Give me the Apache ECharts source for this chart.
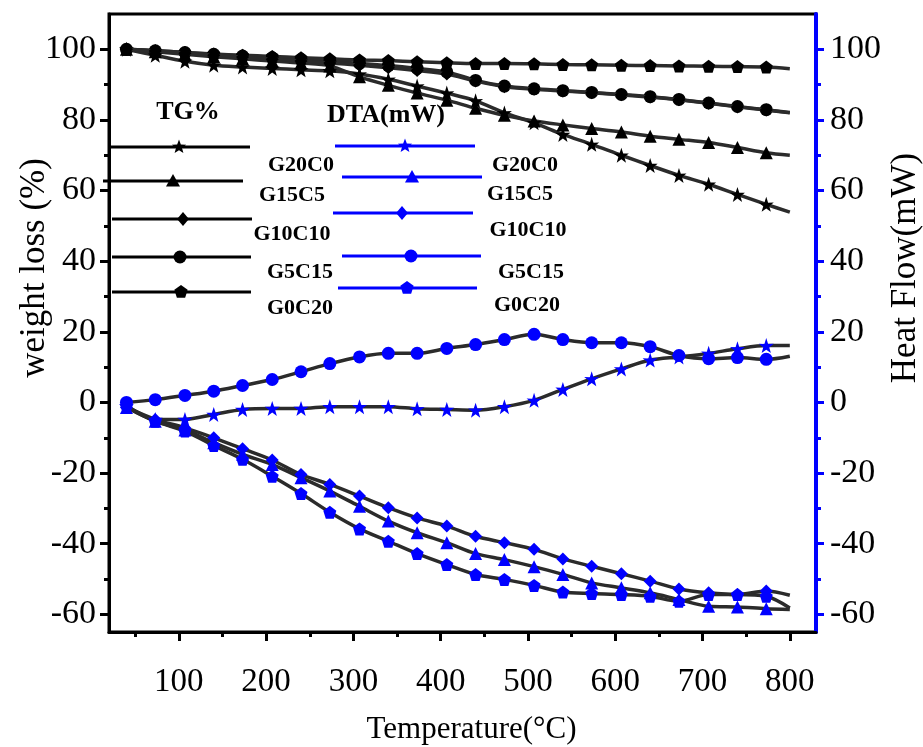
<!DOCTYPE html>
<html><head><meta charset="utf-8">
<script src="https://cdn.jsdelivr.net/npm/echarts@6/dist/echarts.min.js"></script>
<style>html,body{margin:0;padding:0;background:#fff}#c{width:923px;height:747px}</style>
</head><body><div id="c"></div>
<script>
// ---------- data ----------
const temps = [40, 73, 107, 140, 173, 207, 240, 273, 307, 340, 373, 407, 440, 473, 507, 540, 573, 607, 640, 673, 707, 740, 773, 800];
const seriesNames = ['G20C0', 'G15C5', 'G10C10', 'G5C15', 'G0C20'];

// TG (%) -- left axis
const tgG20C0  = [100, 98.3, 96.6, 95.5, 95.0, 94.6, 94.2, 93.9, 93.0, 91.5, 89.6, 87.6, 85.4, 82.0, 79.2, 75.9, 73.1, 70.0, 67.1, 64.3, 61.8, 58.9, 56.1, 53.9];
const tgG15C5  = [100, 99.3, 98.6, 97.9, 97.3, 96.7, 96.1, 95.3, 92.2, 89.8, 87.6, 85.6, 83.3, 81.3, 79.7, 78.6, 77.6, 76.6, 75.4, 74.5, 73.6, 72.2, 70.7, 70.0];
const tgG10C10 = [100, 99.5, 98.9, 98.3, 97.8, 97.2, 96.7, 96.1, 95.5, 94.8, 94.0, 93.0, 91.0, 89.4, 88.7, 88.2, 87.7, 87.1, 86.5, 85.7, 84.7, 83.7, 82.8, 82.0];
const tgG5C15  = [100, 99.6, 99.1, 98.6, 98.1, 97.6, 97.1, 96.6, 96.0, 95.4, 94.6, 93.6, 91.2, 89.6, 88.8, 88.3, 87.8, 87.2, 86.6, 85.8, 84.8, 83.8, 82.9, 82.1];
const tgG0C20  = [100, 99.6, 99.1, 98.7, 98.3, 98.0, 97.6, 97.3, 97.0, 96.8, 96.5, 96.2, 96.0, 96.0, 95.9, 95.7, 95.6, 95.5, 95.4, 95.3, 95.2, 95.1, 95.0, 94.5];

// DTA (mW) -- right axis
const dtaG20C0  = [-1.0, -4.8, -4.8, -3.4, -2.0, -1.7, -1.7, -1.2, -1.2, -1.2, -1.8, -2.0, -2.2, -1.2, 0.6, 3.7, 6.7, 9.5, 12.0, 12.9, 13.9, 15.2, 16.1, 16.1];
const dtaG15C5  = [-1.4, -5.3, -7.8, -11.4, -14.7, -17.6, -21.3, -25.1, -29.4, -33.6, -36.9, -39.7, -42.8, -44.5, -46.5, -48.7, -51.1, -52.5, -53.9, -55.8, -57.7, -57.9, -58.4, -58.6];
const dtaG10C10 = [-1.4, -4.8, -7.2, -10.0, -13.1, -16.3, -20.4, -23.2, -26.5, -29.8, -32.7, -35.0, -37.9, -39.7, -41.6, -44.3, -46.4, -48.5, -50.6, -52.8, -53.9, -54.4, -53.4, -54.6];
const dtaG5C15  = [0, 0.8, 2.0, 3.2, 4.8, 6.5, 8.7, 11.0, 12.9, 13.9, 13.9, 15.3, 16.4, 17.8, 19.3, 17.8, 16.9, 16.9, 15.8, 13.3, 12.4, 12.7, 12.2, 13.1];
const dtaG0C20  = [-1.0, -5.3, -8.1, -12.2, -16.1, -20.9, -25.8, -31.1, -35.8, -39.3, -42.8, -45.9, -48.7, -50.1, -51.8, -53.7, -54.1, -54.4, -54.9, -56.3, -54.4, -54.4, -54.9, -58.2];

// ticks
const xTicks = [100, 200, 300, 400, 500, 600, 700, 800];
const xMinorTicks = [50, 150, 250, 350, 450, 550, 650, 750];
const yTicks = [-60, -40, -20, 0, 20, 40, 60, 80, 100];
const yMinorTicks = [-50, -30, -10, 10, 30, 50, 70, 90];

// ---------- styling ----------
const FONT = '"Liberation Serif", "Times New Roman", serif';
const BLUE = '#0000ff';
const LINE = '#2b2b2b';
const symbols = [
  'path://M50,0L61.8,35.3L97.6,34.5L69.1,56.2L79.4,90.5L50,70L20.6,90.5L30.9,56.2L2.4,34.5L38.2,35.3Z',
  'triangle', 'diamond', 'circle',
  'path://M50,0L97.6,34.5L79.4,90.5L20.6,90.5L2.4,34.5Z'
];
const tgData = [tgG20C0, tgG15C5, tgG10C10, tgG5C15, tgG0C20];
const dtaData = [dtaG20C0, dtaG15C5, dtaG10C10, dtaG5C15, dtaG0C20];

function pairs(arr) { return temps.map((t, i) => [t, arr[i]]); }
function symSize(base) {
  return function (v, p) { return p.dataIndex === temps.length - 1 ? 0 : base; };
}

const series = [];
tgData.forEach((d, i) => {
  series.push({
    name: 'TG ' + seriesNames[i], type: 'line', xAxisIndex: 0, yAxisIndex: 0,
    data: pairs(d), smooth: 0.3, symbol: symbols[i], symbolSize: symSize(i === 0 ? 15 : 13),
    showAllSymbol: true,
    lineStyle: { color: LINE, width: 3.5 }, itemStyle: { color: '#000' }, z: i === 2 ? 4 : 3
  });
});
dtaData.forEach((d, i) => {
  series.push({
    name: 'DTA ' + seriesNames[i], type: 'line', xAxisIndex: 0, yAxisIndex: 1,
    data: pairs(d), smooth: 0.3, symbol: symbols[i], symbolSize: symSize(i === 0 ? 15 : 13),
    showAllSymbol: true,
    lineStyle: { color: LINE, width: 3.5 }, itemStyle: { color: BLUE }, z: 3
  });
});

// ---------- hand-drawn legend (graphic) ----------
function poly(kind, cx, cy, r) {
  const pts = [];
  if (kind === 0) {
    for (let k = 0; k < 10; k++) {
      const a = -Math.PI / 2 + k * Math.PI / 5, rr = k % 2 ? r * 0.42 : r;
      pts.push([cx + rr * Math.cos(a), cy + rr * Math.sin(a)]);
    }
  } else if (kind === 1) {
    pts.push([cx, cy - r], [cx + r, cy + r * 0.8], [cx - r, cy + r * 0.8]);
  } else if (kind === 2) {
    pts.push([cx, cy - r], [cx + r * 0.85, cy], [cx, cy + r], [cx - r * 0.85, cy]);
  } else if (kind === 4) {
    for (let k = 0; k < 5; k++) {
      const a = -Math.PI / 2 + k * 2 * Math.PI / 5;
      pts.push([cx + r * Math.cos(a), cy + r * Math.sin(a)]);
    }
  }
  return pts;
}
// [lineY, x1, x2, markerX, labelX, labelY]
const tgLegendLayout = [
  [147, 110, 250, 179, 301, 165], [181, 103, 243, 173, 292, 195], [219, 112, 252, 183, 292, 234],
  [257, 112, 251, 180, 300, 272], [292, 112, 251, 181, 300, 308]
];
const dtaLegendLayout = [
  [146, 335, 475, 405, 525, 165], [177, 342, 482, 412, 520, 194], [213, 333, 473, 402, 528, 230],
  [256, 342, 481, 411, 531, 272], [288, 338, 477, 407, 527, 305]
];
const graphic = [];
function addLegend(layout, color) {
  layout.forEach((L, i) => {
    graphic.push({ type: 'line', shape: { x1: L[1], y1: L[0], x2: L[2], y2: L[0] }, style: { stroke: color, lineWidth: 3 }, z: 10 });
    if (i === 3) {
      graphic.push({ type: 'circle', shape: { cx: L[3], cy: L[0], r: 6.5 }, style: { fill: color }, z: 11 });
    } else {
      graphic.push({ type: 'polygon', shape: { points: poly(i, L[3], L[0], i === 0 ? 7.5 : 7) }, style: { fill: color }, z: 11 });
    }
    graphic.push({ type: 'text', x: L[4], y: L[5], z: 11,
      style: { text: seriesNames[i], fill: '#000', font: 'bold 22px ' + FONT, textAlign: 'center', textVerticalAlign: 'middle', align: 'center', verticalAlign: 'middle' } });
  });
}
addLegend(tgLegendLayout, '#000');
addLegend(dtaLegendLayout, BLUE);
graphic.push({ type: 'text', x: 188, y: 112, z: 11,
  style: { text: 'TG%', fill: '#000', font: 'bold 26px ' + FONT, textAlign: 'center', textVerticalAlign: 'middle', align: 'center', verticalAlign: 'middle' } });
graphic.push({ type: 'text', x: 386, y: 115, z: 11,
  style: { text: 'DTA(mW)', fill: '#000', font: 'bold 26px ' + FONT, textAlign: 'center', textVerticalAlign: 'middle', align: 'center', verticalAlign: 'middle' } });

// ---------- axes ----------
const labelStyle = { color: '#000', fontFamily: FONT };
const option = {
  animation: false,
  backgroundColor: '#fff',
  grid: { left: 109, right: 107, top: 14, bottom: 115, containLabel: false, outerBoundsMode: 'none',
    show: true, borderColor: '#000', borderWidth: 3, backgroundColor: 'transparent' },
  xAxis: [
    { type: 'value', min: 20, max: 830, position: 'bottom',
      axisLine: { show: true, onZero: false, lineStyle: { color: '#000', width: 3 } },
      axisTick: { show: true, customValues: xTicks, length: 9, lineStyle: { color: '#000', width: 3 } },
      axisLabel: Object.assign({ customValues: xTicks, fontSize: 33, margin: 34 }, labelStyle),
      splitLine: { show: false },
      name: 'Temperature(°C)', nameLocation: 'middle', nameGap: 82, nameMoveOverlap: false,
      nameTextStyle: Object.assign({ fontSize: 31, padding: [0, 0, 0, 18] }, labelStyle) },
    { type: 'value', min: 20, max: 830, position: 'bottom',
      axisLine: { show: false, onZero: false },
      axisTick: { show: true, customValues: xMinorTicks, length: 5, lineStyle: { color: '#000', width: 3 } },
      axisLabel: { show: false }, splitLine: { show: false } }
  ],
  yAxis: [
    { type: 'value', min: -65, max: 110, position: 'left',
      axisLine: { show: true, onZero: false, lineStyle: { color: '#000', width: 3 } },
      axisTick: { show: true, customValues: yTicks, length: 9, lineStyle: { color: '#000', width: 3 } },
      axisLabel: Object.assign({ customValues: yTicks, fontSize: 34, margin: 13 }, labelStyle),
      splitLine: { show: false },
      name: 'weight loss (%)', nameLocation: 'middle', nameGap: 57, nameRotate: 90, nameMoveOverlap: false,
      nameTextStyle: Object.assign({ fontSize: 35, padding: [0, 0, 0, 110] }, labelStyle) },
    { type: 'value', min: -65, max: 110, position: 'right',
      axisLine: { show: true, onZero: false, lineStyle: { color: BLUE, width: 4 } },
      axisTick: { show: true, customValues: yTicks, length: 8, lineStyle: { color: BLUE, width: 3 } },
      axisLabel: Object.assign({ customValues: yTicks, fontSize: 34, margin: 14 }, labelStyle),
      splitLine: { show: false },
      name: 'Heat Flow(mW)', nameLocation: 'middle', nameGap: 72, nameRotate: 90, nameMoveOverlap: false,
      nameTextStyle: Object.assign({ fontSize: 35, padding: [0, 0, 0, 110] }, labelStyle) },
    { type: 'value', min: -65, max: 110, position: 'left',
      axisLine: { show: false, onZero: false },
      axisTick: { show: true, customValues: yMinorTicks, length: 5, lineStyle: { color: '#000', width: 3 } },
      axisLabel: { show: false }, splitLine: { show: false } },
    { type: 'value', min: -65, max: 110, position: 'right',
      axisLine: { show: false, onZero: false },
      axisTick: { show: true, customValues: yMinorTicks, length: 5, lineStyle: { color: BLUE, width: 3 } },
      axisLabel: { show: false }, splitLine: { show: false } }
  ],
  series: series,
  graphic: graphic
};
const chart = echarts.init(document.getElementById('c'), null, { renderer: 'canvas' });
chart.setOption(option);
</script>
</body></html>
